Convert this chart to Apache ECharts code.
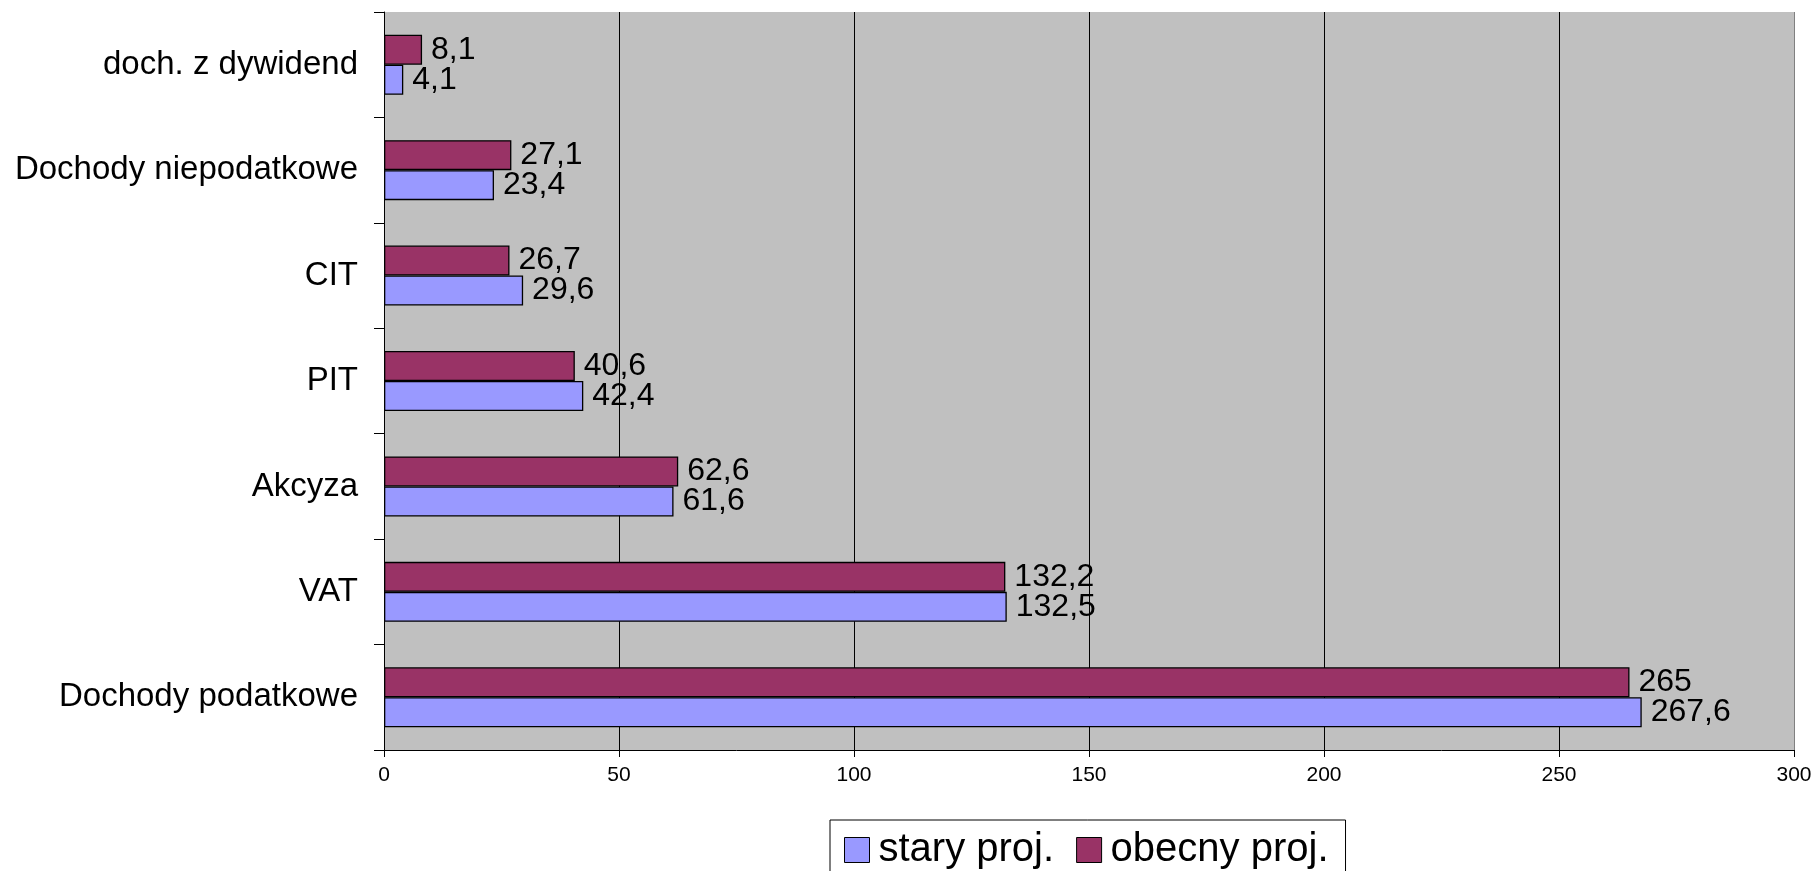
<!DOCTYPE html>
<html>
<head>
<meta charset="utf-8">
<script src="https://cdn.jsdelivr.net/npm/echarts@6/dist/echarts.min.js"></script>
<style>
html,body{margin:0;padding:0;background:#fff;}
#chart{width:1818px;height:871px;}
</style>
</head>
<body>
<div id="chart"></div>
<script>
var categories = ['Dochody podatkowe', 'VAT', 'Akcyza', 'PIT', 'CIT', 'Dochody niepodatkowe', 'doch. z dywidend'];
var staryProj = [267.6, 132.5, 61.6, 42.4, 29.6, 23.4, 4.1];
var obecnyProj = [265, 132.2, 62.6, 40.6, 26.7, 27.1, 8.1];
var seriesNames = ['stary proj.', 'obecny proj.'];
var xTicks = { min: 0, max: 300, interval: 50 };

var FONT = 'Arial, "Liberation Sans", sans-serif';
function fmt(p) { return String(p.value).replace('.', ','); }

var chart = echarts.init(document.getElementById('chart'), null, { renderer: 'canvas' });
chart.setOption({
  animation: false,
  textStyle: { fontFamily: FONT, color: '#000' },
  grid: {
    left: 384, right: 24, top: 12, bottom: 121,
    show: true, backgroundColor: '#C0C0C0', borderWidth: 0
  },
  legend: {
    data: seriesNames,
    left: 830, top: 820,
    orient: 'horizontal',
    backgroundColor: '#fff',
    borderColor: '#000', borderWidth: 1,
    padding: [10, 17, 12, 14],
    itemGap: 22,
    itemWidth: 25, itemHeight: 25,
    icon: 'rect',
    itemStyle: { borderColor: '#000', borderWidth: 1 },
    textStyle: { fontFamily: FONT, fontSize: 40, color: '#000', padding: [0, 0, 0, 4] }
  },
  xAxis: {
    type: 'value',
    min: xTicks.min, max: xTicks.max, interval: xTicks.interval,
    axisLine: { show: true, lineStyle: { color: '#000', width: 1 } },
    axisTick: { show: true, length: 7, lineStyle: { color: '#000' } },
    axisLabel: { fontFamily: FONT, fontSize: 21, color: '#000', margin: 15 },
    splitLine: { show: true, lineStyle: { color: ['#000','#000','#000','#000','#000','#000','#808080'], width: 1 } }
  },
  yAxis: {
    type: 'category',
    data: categories,
    axisLine: { show: true, lineStyle: { color: '#000', width: 1 } },
    axisTick: { show: true, length: 10, alignWithLabel: false, lineStyle: { color: '#000' } },
    axisLabel: { fontFamily: FONT, fontSize: 33, color: '#000', margin: 26 },
    splitLine: { show: false }
  },
  series: [
    {
      name: seriesNames[1], type: 'bar', data: obecnyProj,
      barWidth: 30, barGap: '0%',
      itemStyle: { color: '#993366', borderColor: '#000', borderWidth: 1.3 },
      label: { show: true, position: 'right', distance: 9, formatter: fmt,
               fontFamily: FONT, fontSize: 32, color: '#000' }
    },
    {
      name: seriesNames[0], type: 'bar', data: staryProj,
      barWidth: 30, barGap: '0%',
      itemStyle: { color: '#9999FF', borderColor: '#000', borderWidth: 1.3 },
      label: { show: true, position: 'right', distance: 9, formatter: fmt,
               fontFamily: FONT, fontSize: 32, color: '#000' }
    }
  ]
});
</script>
</body>
</html>
